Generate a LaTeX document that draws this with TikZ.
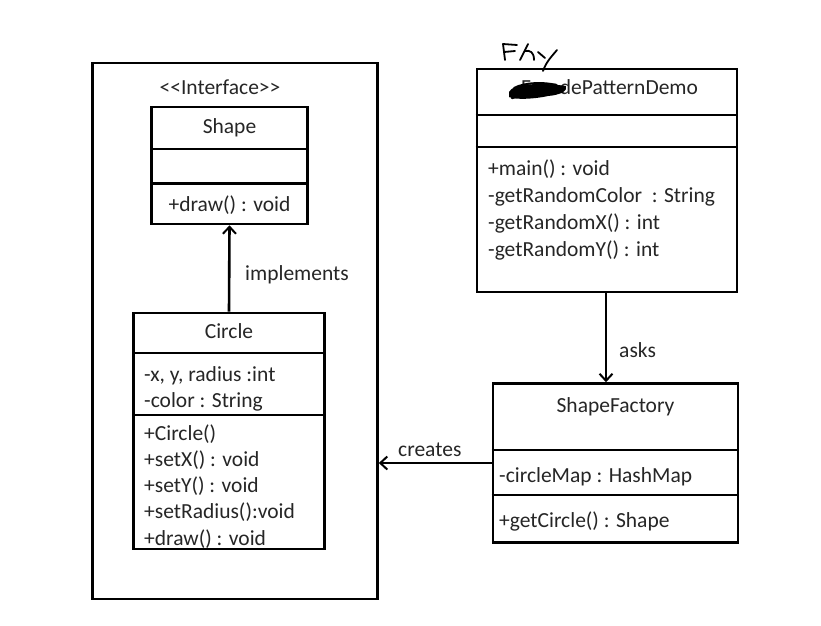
\documentclass[tikz,border=0pt]{standalone}
\usepackage{fontspec}
\setmainfont{Carlito}
\usetikzlibrary{arrows.meta}
\tikzset{
  frame/.style={draw=black, line width=2.6pt, rectangle, inner sep=0pt},
  divider/.style={draw=black, line width=2.4pt},
  txt/.style={inner sep=0pt, anchor=base west, font=\fontsize{21.5}{26}\selectfont, text=black!85},
  ctxt/.style={inner sep=0pt, anchor=base, font=\fontsize{21.5}{26}\selectfont, text=black!85},
  link/.style={draw=black, line width=2.6pt, -{Straight Barb[length=7pt, width=13pt, line width=2pt]}},
  pen/.style={draw=black, line width=1.8pt, line cap=round, line join=round}
}
\begin{document}
\begin{tikzpicture}[x=1pt, y=-1pt]
\useasboundingbox (0,0) rectangle (821,625);
\fill[white] (0,0) rectangle (821,625);

% outer package frame
\node[frame, minimum width=285pt, minimum height=536pt] (pkg) at (235,331) {};

% Shape interface
\node[ctxt] (stereo) at (220,94) {<\kern0pt<Interface>\kern0pt>};
\node[frame, minimum width=156pt, minimum height=117pt] (shape) at (229.5,165.5) {};
\draw[divider] (shape.west |- 0,149) -- (shape.east |- 0,149);
\draw[divider, line width=3pt] (shape.west |- 0,183) -- (shape.east |- 0,183);
\node[ctxt] (shapetitle) at (229.5,133) {Shape};
\node[ctxt] (shapedraw) at (229.5,211) {+draw() : void};

% Circle class
\node[frame, minimum width=191pt, minimum height=236pt] (circle) at (229,431) {};
\draw[divider] (circle.west |- 0,353) -- (circle.east |- 0,353);
\draw[divider] (circle.west |- 0,415) -- (circle.east |- 0,415);
\node[ctxt] (circletitle) at (229,338) {Circle};
\node[txt] (c1) at (144,381) {-x, y, radius :int};
\node[txt] (c2) at (144,407) {-color : String};
\node[txt] (c3) at (144,440) {+Circle()};
\node[txt] (c4) at (144,466) {+setX() : void};
\node[txt] (c5) at (144,492) {+setY() : void};
\node[txt] (c6) at (144,518) {+setRadius():void};
\node[txt] (c7) at (144,545) {+draw() : void};

% demo class
\node[frame, minimum width=260pt, minimum height=223pt] (demo) at (607,180.5) {};
\draw[divider] (demo.west |- 0,115) -- (demo.east |- 0,115);
\draw[divider] (demo.west |- 0,147) -- (demo.east |- 0,147);
\node[ctxt] (demotitle) at (609.5,94) {FacadePatternDemo};
\node[txt] (d1) at (488,175) {+main() : void};
\node[txt] (d2) at (488,202) {-getRandomColor\ \ : String};
\node[txt] (d3) at (488,229) {-getRandomX() : int};
\node[txt] (d4) at (488,256) {-getRandomY() : int};

% ShapeFactory class
\node[frame, minimum width=245pt, minimum height=159pt] (factory) at (615.5,463) {};
\draw[divider] (factory.west |- 0,450) -- (factory.east |- 0,450);
\draw[divider] (factory.west |- 0,495) -- (factory.east |- 0,495);
\node[ctxt] (factorytitle) at (615.5,412) {ShapeFactory};
\node[txt] (f1) at (499,482) {-circleMap : HashMap};
\node[txt] (f2) at (499,527) {+getCircle() : Shape};

% relations
\draw[link] (circle.north) -- (shape.south);
\node[txt] (implements) at (245,280) {implements};
\draw[link] (demo.south -| 606,0) -- (factory.north -| 606,0);
\node[txt] (asks) at (619,357) {asks};
\draw[link] (factory.west) -- (factory.west -| pkg.east);
\node[txt] (creates) at (398,456) {creates};

% scribble over the first letters of the title
\fill[black] (509,92) .. controls (512,84) and (540,82) .. (566,86)
  .. controls (568,91) and (560,95) .. (548,96)
  .. controls (535,99) and (515,100) .. (509,97) -- cycle;
\draw[pen, line width=2.4pt] (510,95) .. controls (520,86) and (545,84) .. (564,88);
\draw[pen, line width=2.4pt] (512,98) .. controls (530,92) and (548,90) .. (562,92);
\draw[pen, line width=2pt] (514,88) .. controls (525,82) and (545,82) .. (556,85);

% handwritten note above the title
\draw[pen] (503,44) -- (517,45);
\draw[pen] (503,44) -- (505,60);
\draw[pen] (504,52) -- (515,51);
\draw[pen] (520,60) -- (528,44);
\draw[pen] (525,51) .. controls (530,50) and (534,52) .. (534,60);
\draw[pen] (538,52) -- (545,58);
\draw[pen] (557,50) .. controls (552,56) and (546,62) .. (543,71);
\end{tikzpicture}
\end{document}
